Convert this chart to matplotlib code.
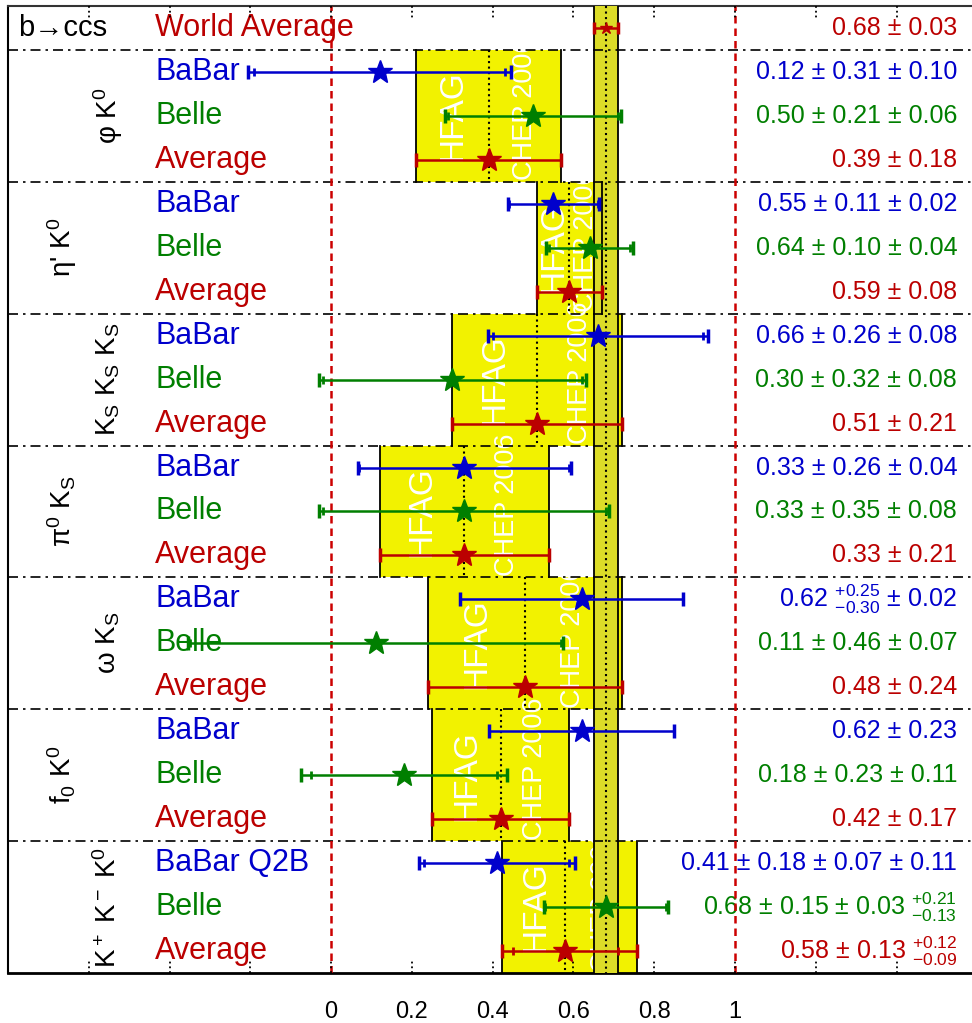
import matplotlib
matplotlib.use("Agg")
import matplotlib.pyplot as plt

plt.rcParams["font.family"] = ["Liberation Sans", "DejaVu Sans"]
plt.rcParams["mathtext.fontset"] = "custom"
plt.rcParams["mathtext.rm"] = "Liberation Sans"
plt.rcParams["mathtext.it"] = "Liberation Sans:italic"
plt.rcParams["mathtext.default"] = "regular"

# ---- data (top to bottom) ----
world_avg = 0.68
world_err = 0.03
world_label = "0.68 ± 0.03"

mode_labels = [
    r"φ K$^0$",
    r"η' K$^0$",
    r"K$_S$ K$_S$ K$_S$",
    r"π$^0$ K$_S$",
    r"ω K$_S$",
    r"f$_0$ K$^0$",
    r"K$^+$ K$^-$ K$^0$",
]
row_names = [
    ["BaBar", "Belle", "Average"],
    ["BaBar", "Belle", "Average"],
    ["BaBar", "Belle", "Average"],
    ["BaBar", "Belle", "Average"],
    ["BaBar", "Belle", "Average"],
    ["BaBar", "Belle", "Average"],
    ["BaBar Q2B", "Belle", "Average"],
]
central = [
    [0.12, 0.50, 0.39],
    [0.55, 0.64, 0.59],
    [0.66, 0.30, 0.51],
    [0.33, 0.33, 0.33],
    [0.62, 0.11, 0.48],
    [0.62, 0.18, 0.42],
    [0.41, 0.68, 0.58],
]
# statistical error (lower, upper)
stat_lo = [
    [0.31, 0.21, 0.18],
    [0.11, 0.10, 0.08],
    [0.26, 0.32, 0.21],
    [0.26, 0.35, 0.21],
    [0.30, 0.46, 0.24],
    [0.23, 0.23, 0.17],
    [0.18, 0.15, 0.13],
]
stat_hi = [
    [0.31, 0.21, 0.18],
    [0.11, 0.10, 0.08],
    [0.26, 0.32, 0.21],
    [0.26, 0.35, 0.21],
    [0.25, 0.46, 0.24],
    [0.23, 0.23, 0.17],
    [0.18, 0.15, 0.13],
]
# total error drawn (lower, upper)
tot_lo = [
    [0.326, 0.218, 0.18],
    [0.112, 0.108, 0.08],
    [0.272, 0.330, 0.21],
    [0.263, 0.359, 0.21],
    [0.301, 0.465, 0.24],
    [0.23, 0.255, 0.17],
    [0.193, 0.153, 0.158],
]
tot_hi = [
    [0.326, 0.218, 0.18],
    [0.112, 0.108, 0.08],
    [0.272, 0.330, 0.21],
    [0.263, 0.359, 0.21],
    [0.251, 0.465, 0.24],
    [0.23, 0.255, 0.17],
    [0.193, 0.153, 0.177],
]
value_labels = [
    ["0.12 ± 0.31 ± 0.10", "0.50 ± 0.21 ± 0.06", "0.39 ± 0.18"],
    ["0.55 ± 0.11 ± 0.02", "0.64 ± 0.10 ± 0.04", "0.59 ± 0.08"],
    ["0.66 ± 0.26 ± 0.08", "0.30 ± 0.32 ± 0.08", "0.51 ± 0.21"],
    ["0.33 ± 0.26 ± 0.04", "0.33 ± 0.35 ± 0.08", "0.33 ± 0.21"],
    [r"0.62 ${}^{+0.25}_{-0.30}$ ± 0.02", "0.11 ± 0.46 ± 0.07", "0.48 ± 0.24"],
    ["0.62 ± 0.23", "0.18 ± 0.23 ± 0.11", "0.42 ± 0.17"],
    ["0.41 ± 0.18 ± 0.07 ± 0.11", r"0.68 ± 0.15 ± 0.03 ${}^{+0.21}_{-0.13}$",
     r"0.58 ± 0.13 ${}^{+0.12}_{-0.09}$"],
]
xtick_vals = [0, 0.2, 0.4, 0.6, 0.8, 1]
xtick_labels = ["0", "0.2", "0.4", "0.6", "0.8", "1"]
minor_ticks = [-0.6, -0.4, -0.2, 0, 0.2, 0.4, 0.6, 0.8, 1.0, 1.2, 1.4]

row_colors = ["#0000cc", "#007f00", "#bb0000"]
box_yellow = "#f2f200"
band_yellow = "#dcdc28"

fig = plt.figure(figsize=(9.72, 10.23), dpi=100)
ax = fig.add_axes([8 / 972, 50 / 1023, 964 / 972, 967 / 1023])
n_rows = 1 + 3 * len(mode_labels)
ax.set_xlim(-0.8, 1.5866)
ax.set_ylim(n_rows, 0)

# world average row
ax.text(-0.775, 0.5, "b→ccs", fontsize=21, ha="left", va="center", color="k")
ax.text(-0.436, 0.5, "World Average", fontsize=22, ha="left", va="center", color=row_colors[2])
ax.text(1.55, 0.5, world_label, fontsize=18, ha="right", va="center", color=row_colors[2])
ax.errorbar([world_avg], [0.5], xerr=[[world_err], [world_err]], fmt="none",
            ecolor=row_colors[2], elinewidth=1.8, capsize=4, capthick=2.5, zorder=5)
ax.plot([world_avg], [0.5], marker="*", ms=9, color=row_colors[2], zorder=6)

# world average band
ax.fill_between([world_avg - world_err, world_avg + world_err], 0, n_rows,
                color=band_yellow, lw=0, zorder=3)
for xb in (world_avg - world_err, world_avg + world_err):
    ax.plot([xb, xb], [0, n_rows], color="k", lw=1.3, zorder=4)
ax.plot([world_avg, world_avg], [0, n_rows], color="k", ls=":", lw=1.5, zorder=4)

mode_x = [-0.552, -0.666]
for k, mode in enumerate(mode_labels):
    top = 1 + 3 * k
    bottom = top + 3
    mid = top + 1.5
    avg = central[k][2]
    lo = avg - tot_lo[k][2]
    hi = avg + tot_hi[k][2]
    w = hi - lo
    ax.fill_between([lo, hi], top, bottom, color=box_yellow, lw=0, zorder=1)
    for xb in (lo, hi):
        ax.plot([xb, xb], [top, bottom], color="k", lw=1.3, zorder=4)
    ax.plot([avg, avg], [top, bottom], color="k", ls=":", lw=1.5, zorder=4)
    ax.text(lo + 0.25 * w, mid, "HFAG", rotation=90, color="white", fontsize=24,
            ha="center", va="center", zorder=2)
    ax.text(lo + 0.75 * w, bottom - 0.03, "CHEP 2006", rotation=90, color="white",
            fontsize=19.5, ha="center", va="bottom", zorder=2)

    ax.text(mode_x[k % 2], mid, mode, rotation=90, fontsize=20, ha="center", va="center")

    for j in range(3):
        y = top + j + 0.5
        c = row_colors[j]
        x = central[k][j]
        ax.text(-0.436, y, row_names[k][j], fontsize=22, ha="left", va="center", color=c)
        ax.text(1.55, y, value_labels[k][j], fontsize=18, ha="right", va="center", color=c)
        ax.errorbar([x], [y], xerr=[[tot_lo[k][j]], [tot_hi[k][j]]], fmt="none",
                    ecolor=c, elinewidth=1.8, capsize=5, capthick=2.5, zorder=5)
        if stat_lo[k][j] != tot_lo[k][j] or stat_hi[k][j] != tot_hi[k][j]:
            ax.plot([x - stat_lo[k][j], x + stat_hi[k][j]], [y, y], ls="none",
                    marker="|", ms=6, mew=2, color=c, zorder=5)
        ax.plot([x], [y], marker="*", ms=18, color=c, zorder=6)

# separators
for k in range(len(mode_labels)):
    ax.axhline(1 + 3 * k, color="k", ls=(0, (6, 3, 1.5, 3)), lw=1.2, zorder=4)

# reference lines at 0 and 1
for xr in (0, 1):
    ax.axvline(xr, color="#cc0000", ls=(0, (3, 2)), lw=1.8, zorder=4)

# dotted inward ticks
for xt in minor_ticks:
    ax.plot([xt, xt], [0, 0.013], transform=ax.get_xaxis_transform(),
            color="k", ls=":", lw=1.3, zorder=4)
    ax.plot([xt, xt], [1, 0.987], transform=ax.get_xaxis_transform(),
            color="k", ls=":", lw=1.3, zorder=4)

ax.set_yticks([])
ax.set_xticks(xtick_vals)
ax.set_xticklabels(xtick_labels)
ax.tick_params(axis="x", length=0, pad=20, labelsize=17)
ax.spines["right"].set_visible(False)
ax.spines["top"].set_color("#333333")
ax.spines["top"].set_linewidth(1.5)
ax.spines["left"].set_linewidth(1.5)
ax.spines["bottom"].set_linewidth(2)

fig.savefig("out.png", dpi=100)
